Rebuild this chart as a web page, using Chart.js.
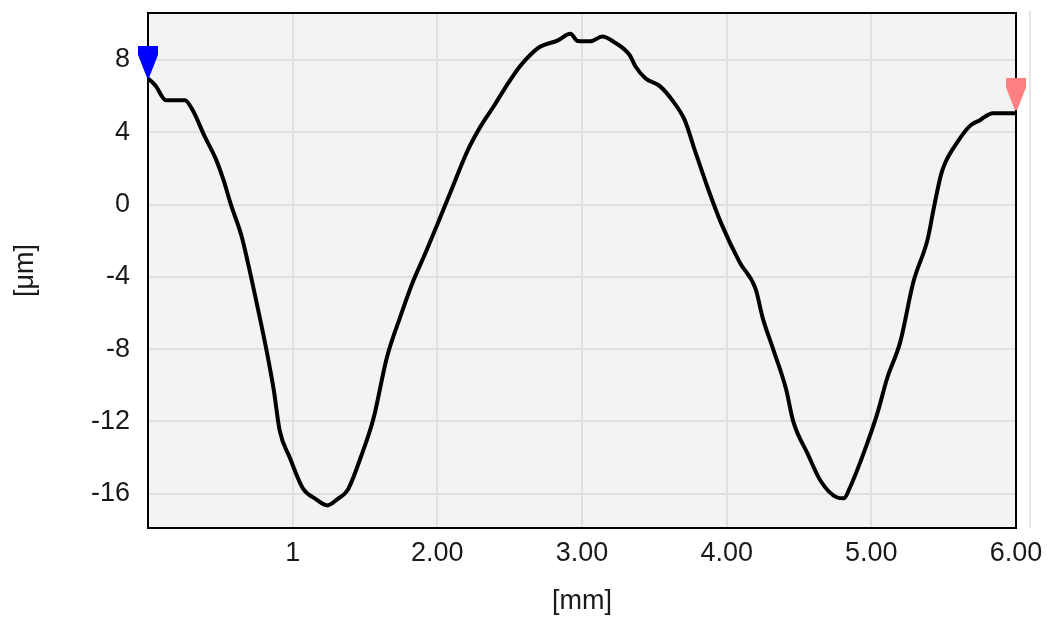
<!DOCTYPE html>
<html>
<head>
<meta charset="utf-8">
<script src="https://cdn.jsdelivr.net/npm/chart.js@4.4.0/dist/chart.umd.min.js"></script>
<style>
    html, body { margin: 0; padding: 0; background: #ffffff; }
    #grafico { display: block; }
</style>
</head>
<body>
<canvas id="grafico" width="1047" height="621"></canvas>
<script>
// Perfil medido: posição [mm] e altura [µm]
const posicao = [0, 0.05, 0.125, 0.255, 0.31, 0.39, 0.47, 0.52, 0.575, 0.645, 0.69, 0.75, 0.82, 0.87, 0.91, 0.98, 1.07, 1.16, 1.24, 1.31, 1.38, 1.47, 1.56, 1.65, 1.74, 1.83, 1.92, 2.0, 2.09, 2.21, 2.30, 2.39, 2.48, 2.57, 2.64, 2.71, 2.83, 2.92, 2.97, 3.06, 3.14, 3.22, 3.33, 3.37, 3.44, 3.54, 3.63, 3.71, 3.78, 3.87, 3.96, 4.09, 4.20, 4.25, 4.32, 4.41, 4.46, 4.56, 4.65, 4.76, 4.81, 4.85, 4.945, 5.04, 5.11, 5.20, 5.29, 5.39, 5.43, 5.48, 5.51, 5.59, 5.68, 5.75, 5.84, 6.0];
const altura = [6.98, 6.6, 5.77, 5.77, 5.2, 3.8, 2.5, 1.4, -0.05, -1.7, -3.2, -5.4, -8.1, -10.3, -12.5, -14.0, -15.7, -16.3, -16.65, -16.3, -15.8, -14.0, -11.8, -8.5, -6.3, -4.3, -2.64, -1.1, 0.66, 3.0, 4.34, 5.44, 6.6, 7.64, 8.26, 8.73, 9.07, 9.45, 9.05, 9.03, 9.3, 9.0, 8.26, 7.64, 6.98, 6.54, 5.71, 4.67, 3.0, 0.9, -1.0, -3.2, -4.67, -6.3, -7.97, -10.2, -12.0, -13.8, -15.3, -16.2, -16.26, -15.7, -13.8, -11.6, -9.6, -7.6, -4.3, -1.9, -0.27, 1.6, 2.3, 3.4, 4.34, 4.67, 5.05, 5.05];

// Marcadores (triângulos) no início e no fim
const marcadorInicio = { x: 0, y: 7.9 };
const marcadorFim = { x: 6.0, y: 6.09 };

// Eixos
const ticksX = [1, 2, 3, 4, 5, 6];
const rotulosX = ['1', '2.00', '3.00', '4.00', '5.00', '6.00'];
const ticksY = [-16, -12, -8, -4, 0, 4, 8];
const limitesX = [0, 6];
const limitesY = [-17.9, 10.6];

const fonte = { family: '"Liberation Sans", Arial, sans-serif', size: 27 };

const pontos = posicao.map((x, i) => ({ x: x, y: altura[i] }));

// desenha o marcador em forma de seta para baixo
function criarMarcador(cor) {
    const c = document.createElement('canvas');
    c.width = 20;
    c.height = 32;
    const g = c.getContext('2d');
    g.fillStyle = cor;
    g.beginPath();
    g.moveTo(0, 0);
    g.lineTo(20, 0);
    g.lineTo(20, 9);
    g.lineTo(11, 32);
    g.lineTo(9, 32);
    g.lineTo(0, 9);
    g.closePath();
    g.fill();
    return c;
}

// fundo cinza da área do gráfico, moldura preta e linha clara à direita
const fundoArea = {
    id: 'fundoArea',
    beforeDraw(chart) {
        const { ctx, chartArea } = chart;
        ctx.save();
        ctx.fillStyle = '#f3f3f3';
        ctx.fillRect(chartArea.left, chartArea.top, chartArea.right - chartArea.left, chartArea.bottom - chartArea.top);
        ctx.strokeStyle = '#e6e6e6';
        ctx.lineWidth = 2;
        ctx.beginPath();
        ctx.moveTo(chartArea.right + 14, chartArea.top - 2);
        ctx.lineTo(chartArea.right + 14, chartArea.bottom);
        ctx.stroke();
        ctx.restore();
    },
    beforeDatasetsDraw(chart) {
        const { ctx, chartArea } = chart;
        ctx.save();
        ctx.strokeStyle = '#000000';
        ctx.lineWidth = 2;
        ctx.strokeRect(chartArea.left, chartArea.top, chartArea.right - chartArea.left, chartArea.bottom - chartArea.top);
        ctx.restore();
    }
};

const semPadding = (escala) => {
    escala.paddingTop = 0;
    escala.paddingBottom = 0;
    escala.paddingLeft = 0;
    escala.paddingRight = 0;
};

const ctx = document.getElementById('grafico').getContext('2d');

new Chart(ctx, {
    type: 'line',
    data: {
        datasets: [{
            label: 'Perfil',
            data: pontos,
            borderColor: '#000000',
            borderWidth: 4,
            pointRadius: 0,
            cubicInterpolationMode: 'monotone',
            fill: false,
            order: 2
        }, {
            label: 'Início',
            type: 'scatter',
            data: [marcadorInicio],
            pointStyle: criarMarcador('#0000ff'),
            pointRadius: 12,
            clip: false,
            order: 1
        }, {
            label: 'Fim',
            type: 'scatter',
            data: [marcadorFim],
            pointStyle: criarMarcador('#ff8080'),
            pointRadius: 12,
            clip: false,
            order: 1
        }]
    },
    options: {
        responsive: false,
        animation: false,
        layout: {
            padding: { left: 0, right: 31, top: 10, bottom: 0 }
        },
        plugins: {
            legend: { display: false },
            tooltip: { enabled: false }
        },
        scales: {
            x: {
                type: 'linear',
                min: limitesX[0],
                max: limitesX[1],
                afterFit: (escala) => { escala.height = 93; semPadding(escala); },
                afterBuildTicks: (escala) => {
                    escala.ticks = ticksX.map(v => ({ value: v }));
                },
                ticks: {
                    color: '#1a1a1a',
                    font: fonte,
                    padding: 9,
                    maxRotation: 0,
                    autoSkip: false,
                    callback: (valor) => rotulosX[ticksX.indexOf(valor)]
                },
                grid: {
                    color: '#e0e0e0',
                    lineWidth: 2,
                    drawTicks: false
                },
                border: { color: '#000000', width: 2 },
                title: {
                    display: true,
                    text: '[mm]',
                    color: '#1a1a1a',
                    font: fonte,
                    padding: { top: 0, bottom: 3 }
                }
            },
            y: {
                type: 'linear',
                min: limitesY[0],
                max: limitesY[1],
                afterFit: (escala) => { escala.width = 148; semPadding(escala); },
                afterBuildTicks: (escala) => {
                    escala.ticks = ticksY.map(v => ({ value: v }));
                },
                ticks: {
                    color: '#1a1a1a',
                    font: fonte,
                    padding: 18
                },
                grid: {
                    color: '#e0e0e0',
                    lineWidth: 2,
                    drawTicks: false
                },
                border: { color: '#000000', width: 2 },
                title: {
                    display: true,
                    text: '[μm]',
                    color: '#1a1a1a',
                    font: fonte,
                    padding: { top: 9, bottom: 0 }
                }
            }
        }
    },
    plugins: [fundoArea]
});
</script>
</body>
</html>
